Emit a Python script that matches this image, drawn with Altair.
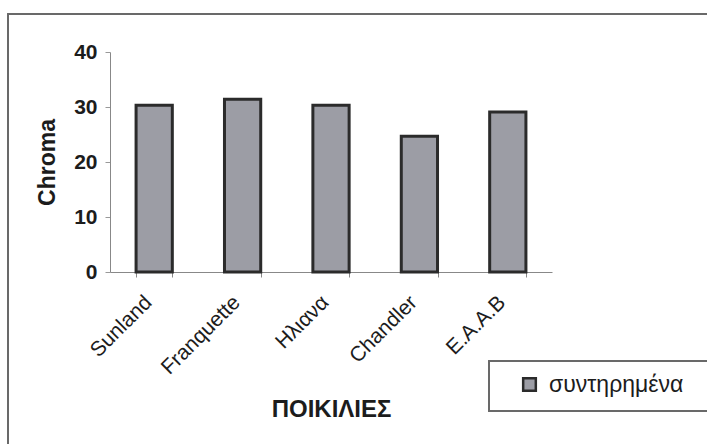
import altair as alt
import pandas as pd

varieties = ["Sunland", "Franquette", "Ηλιανα", "Chandler", "Ε.Α.Α.Β"]
chroma = [30.3, 31.4, 30.3, 24.7, 29.1]
series = ["συντηρημένα"] * len(varieties)

df = pd.DataFrame({"ποικιλία": varieties, "Chroma": chroma, "σειρά": series})

FONT = "Liberation Sans"
TXT = "#1c1c1c"
W, H = 442, 220

frame = alt.Chart(df).mark_rect(fill="transparent", stroke="#6a6a6a", strokeWidth=1.5).encode(
    x=alt.value(-102), x2=alt.value(610), y=alt.value(-38), y2=alt.value(400)
)

legend_box = alt.Chart(df).mark_rect(fill="transparent", stroke="#6a6a6a", strokeWidth=1.5).encode(
    x=alt.value(379), x2=alt.value(610), y=alt.value(309), y2=alt.value(359)
)

bars = alt.Chart(df).mark_bar(stroke="#2b2b2b", strokeWidth=3).encode(
    x=alt.X(
        "ποικιλία:N",
        sort=varieties,
        scale=alt.Scale(paddingInner=0.59, paddingOuter=0.295),
        axis=alt.Axis(
            title="ΠΟΙΚΙΛΙΕΣ",
            labelAngle=-45,
            labelAlign="right",
            labelBaseline="middle",
            labelPadding=22,
            labelOffset=-6,
            labelFont=FONT,
            labelFontSize=21,
            labelColor=TXT,
            tickBand="extent",
            tickSize=5,
            tickColor="#888",
            domainColor="#888",
            titleFont=FONT,
            titleFontSize=24,
            titleFontWeight="bold",
            titleColor=TXT,
            titleBaseline="alphabetic",
            titleY=144,
        ),
    ),
    y=alt.Y(
        "Chroma:Q",
        scale=alt.Scale(domain=[0, 40]),
        axis=alt.Axis(
            values=[0, 10, 20, 30, 40],
            title="Chroma",
            grid=False,
            labelFont=FONT,
            labelFontSize=21,
            labelFontWeight="bold",
            labelColor=TXT,
            labelPadding=8,
            tickSize=5,
            tickColor="#999",
            domainColor="#888",
            titleFont=FONT,
            titleFontSize=23,
            titleFontWeight="bold",
            titleColor=TXT,
            titleBaseline="alphabetic",
            titleX=-56,
            titleY=H / 2,
        ),
    ),
    color=alt.Color(
        "σειρά:N",
        scale=alt.Scale(range=["#9c9da5"]),
        legend=alt.Legend(
            title=None,
            orient="none",
            legendX=408,
            legendY=321,
            padding=0,
            symbolType="square",
            symbolSize=160,
            symbolStrokeColor="#2b2b2b",
            symbolStrokeWidth=2.5,
            symbolOffset=0,
            labelFont=FONT,
            labelFontSize=23,
            labelColor=TXT,
            labelOffset=8,
        ),
    ),
)

chart = alt.layer(frame, legend_box, bars).properties(
    width=W,
    height=H,
    padding={"left": 110, "top": 52, "right": 155, "bottom": 172},
    autosize=alt.AutoSizeParams(type="none"),
    background="white",
).configure_view(stroke=None)

chart.save("out.html", embed_options={"renderer": "svg", "actions": False})
